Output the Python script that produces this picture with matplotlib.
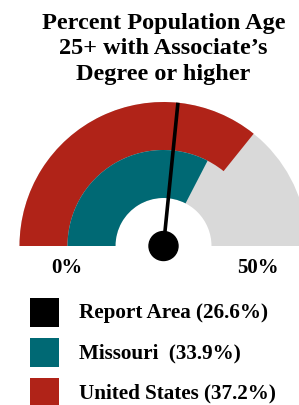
import numpy as np
import matplotlib.pyplot as plt
from matplotlib.patches import Wedge, Circle, Rectangle

# gauge data
needle_max = 50.0
ring_max = 52.0
names = ["Report Area", "Missouri ", "United States"]
values = [26.6, 33.9, 37.2]
colors = ["#000000", "#006974", "#B02318"]
grey = "#D9D9D9"
title = "Percent Population Age\n25+ with Associate\u2019s\nDegree or higher"
tick_labels = ["0%", "50%"]

W, H = 299, 406
fig = plt.figure(figsize=(W / 100, H / 100), dpi=100)
ax = fig.add_axes([0, 0, 1, 1])
ax.set_xlim(0, W)
ax.set_ylim(0, H)
ax.set_aspect("equal")
ax.axis("off")

font = dict(family="Liberation Serif", weight="bold")

cx, cy = 163.5, H - 247
r_out, r_mid, r_in = 144, 96, 48

def ang(v, vmax):
    return 180 - v / vmax * 180

# grey background track
ax.add_patch(Wedge((cx, cy), r_out, 0, 180, width=r_out - r_in, color=grey, lw=0))
# outer ring = United States, inner ring = Missouri
ax.add_patch(Wedge((cx, cy), r_out, ang(values[2], ring_max), 180, width=r_out - r_mid, color=colors[2], lw=0))
ax.add_patch(Wedge((cx, cy), r_mid, ang(values[1], ring_max), 180, width=r_mid - r_in, color=colors[1], lw=0))

# needle = report area
a = np.radians(ang(values[0], needle_max))
ax.plot([cx, cx + r_out * np.cos(a)], [cy, cy + r_out * np.sin(a)], color="black", lw=2.6, solid_capstyle="butt")
ax.add_patch(Circle((cx, cy), 14.5, color="black"))

ax.text(W / 2 + 14, H - 49, title, ha="center", va="center", fontsize=17.5, linespacing=1.3, **font)

ax.text(67, H - 268, tick_labels[0], ha="center", va="center", fontsize=15, **font)
ax.text(258, H - 268, tick_labels[1], ha="center", va="center", fontsize=15, **font)

# legend
ys = [313, 353, 393]
for name, v, c, y in zip(names, values, colors, ys):
    ax.add_patch(Rectangle((30, H - y - 14.5), 29, 29, color=c, lw=0))
    ax.text(79, H - y, f"{name} ({v}%)", ha="left", va="center", fontsize=15.2, **font)

fig.savefig("out.png", dpi=100)
